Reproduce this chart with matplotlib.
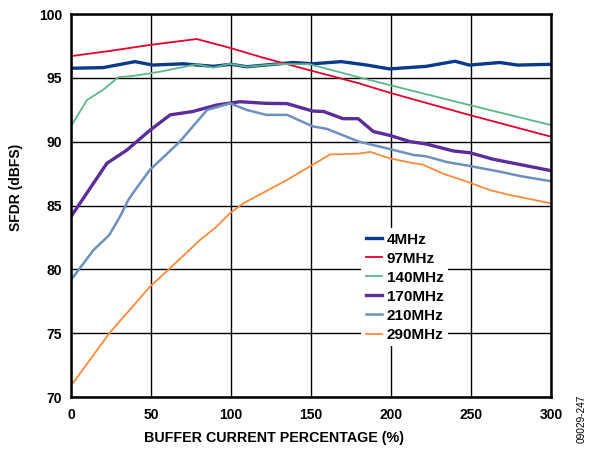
import matplotlib.pyplot as plt

plt.rcParams['font.family'] = ['Liberation Sans', 'DejaVu Sans']
plt.rcParams['font.weight'] = 'bold'

# series (buffer current %, SFDR dBFS)
x_4 = [0, 20, 40, 51, 70, 89, 100, 110, 139, 151, 169, 185, 199, 222, 240, 249, 268, 279, 300]
y_4 = [95.75, 95.8, 96.27, 96.0, 96.1, 95.9, 96.06, 95.87, 96.2, 96.1, 96.27, 96.0, 95.7, 95.9, 96.3, 96.0, 96.2, 96.0, 96.06]

x_97 = [0, 24, 49, 78.5, 99, 120, 149, 180, 199, 249, 300]
y_97 = [96.7, 97.1, 97.57, 98.04, 97.36, 96.58, 95.6, 94.57, 93.84, 92.09, 90.39]

x_140 = [0, 10, 20, 29.5, 40, 55.6, 78.5, 89, 99, 110, 129, 149, 180, 199, 249, 300]
y_140 = [91.2, 93.27, 94.05, 95.04, 95.17, 95.48, 96.06, 95.8, 96.1, 95.87, 96.08, 96.07, 95.04, 94.44, 92.87, 91.3]

x_170 = [0, 22.4, 35, 49.4, 62, 76, 91, 105.6, 122, 135, 151, 158, 170, 179.5, 189, 199, 212, 222, 239, 249, 264, 279, 300]
y_170 = [84.13, 88.3, 89.35, 90.9, 92.1, 92.36, 92.87, 93.13, 93.0, 92.98, 92.4, 92.36, 91.8, 91.8, 90.79, 90.5, 90.0, 89.82, 89.27, 89.14, 88.62, 88.25, 87.73]

x_210 = [0, 14, 24, 30.6, 35.8, 40, 49.4, 68, 85, 99.5, 110, 122, 135, 151, 160, 180, 199, 214, 222, 235, 249, 268, 281, 300]
y_210 = [79.17, 81.5, 82.7, 84.13, 85.43, 86.2, 87.8, 90.0, 92.48, 93.0, 92.48, 92.1, 92.1, 91.2, 91.0, 90.0, 89.43, 88.96, 88.85, 88.4, 88.1, 87.65, 87.3, 86.9]

x_290 = [0, 24, 49.4, 62, 80.6, 91, 99.4, 107.7, 135, 149, 162, 180, 187, 199, 212, 220, 232.5, 249, 262, 274, 300]
y_290 = [70.87, 75.0, 78.65, 80.1, 82.3, 83.34, 84.4, 85.17, 87.0, 88.04, 89.0, 89.06, 89.2, 88.7, 88.36, 88.2, 87.5, 86.8, 86.2, 85.83, 85.17]

labels = ['4MHz', '97MHz', '140MHz', '170MHz', '210MHz', '290MHz']
colors = ['#0b3a8c', '#e4002b', '#5cb88a', '#5b2d9a', '#6f8fbf', '#ff8a3a']
widths = [2.4, 1.3, 1.3, 2.4, 1.8, 1.3]
xs = [x_4, x_97, x_140, x_170, x_210, x_290]
ys = [y_4, y_97, y_140, y_170, y_210, y_290]

fig = plt.figure(figsize=(5.93, 4.51), dpi=100)
ax = fig.add_axes([71 / 593, 1 - 397 / 451, 480 / 593, 383 / 451])

for x, y, lab, c, w in zip(xs, ys, labels, colors, widths):
    ax.plot(x, y, color=c, lw=w, label=lab)

ax.set_xlim(0, 300)
ax.set_ylim(70, 100)
ax.set_xticks(range(0, 301, 50))
ax.set_yticks(range(70, 101, 5))
ax.grid(True, color='black', lw=1.0)
ax.tick_params(length=0, labelsize=10, pad=6.5)
ax.tick_params(axis='x', pad=8)
for s in ax.spines.values():
    s.set_linewidth(1.8)
ax.set_xlabel('BUFFER CURRENT PERCENTAGE (%)', fontsize=10.3, fontweight='bold')
ax.set_ylabel('SFDR (dBFS)', fontsize=10, fontweight='bold')
ax.xaxis.set_label_coords(0.423, -0.09)
ax.yaxis.set_label_coords(-0.1, 0.548)

leg = ax.legend(loc='upper left', bbox_to_anchor=(0.604, 0.441), frameon=True,
                fancybox=False, edgecolor='none', facecolor='white', framealpha=1,
                fontsize=11, handlelength=1.1, handletextpad=0.3, labelspacing=0.33,
                borderpad=0.3, borderaxespad=0)

fig.text(582 / 593, 1 - 395 / 451, '09029-247', rotation=90, fontsize=7.3,
         fontweight='normal', ha='center', va='top')

fig.savefig('out.png', dpi=100)
